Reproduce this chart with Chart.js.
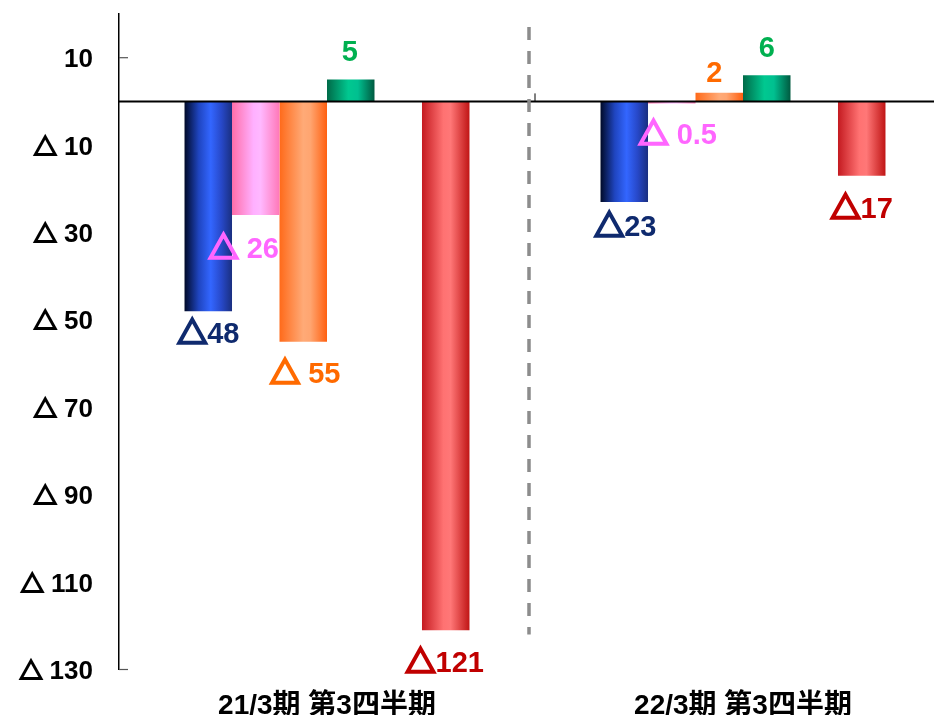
<!DOCTYPE html>
<html>
<head>
<meta charset="utf-8">
<script src="https://cdn.jsdelivr.net/npm/chart.js@4.4.1/dist/chart.umd.min.js"></script>
<style>
  html, body { margin: 0; padding: 0; background: #fff; overflow: hidden; }
  #wrap { width: 960px; height: 715px; }
</style>
</head>
<body>
<div id="wrap"><canvas id="bar-chart"></canvas></div>
<script>
// data
const categories = ['21/3期 第3四半期', '22/3期 第3四半期'];
const yTicks = [10, -10, -30, -50, -70, -90, -110, -130];

const blueValues = [-48, -23];
const pinkValues = [-26, -0.5];
const orangeValues = [-55, 2];
const greenValues = [5, 6];
const emptyValues = [null, null];
const redValues = [-121, -17];

const blueLabels = ['△48', '△23'];
const pinkLabels = ['△ 26', '△ 0.5'];
const orangeLabels = ['△ 55', '2'];
const greenLabels = ['5', '6'];
const redLabels = ['△121', '△17'];

const FONT = '"Liberation Sans", Arial, sans-serif';
const TRI_FONT = '"Noto Sans CJK JP", "DejaVu Sans", sans-serif';
const CAT_PCT = 0.685;

// label nudges [dx, dy from bar end to text centre]
const nudges = {
    blue: [[0, 21], [1, 24]],
    pink: [[-12, 32], [6, 30]],
    orange: [[2, 31], [-5, -21]],
    green: [[-1, -29], [0, -29]],
    red: [[-1, 31], [0, 32]]
};

function barGradient(stops) {
    return function (c) {
        if (c.type !== 'data') return stops[1][1];
        const chart = c.chart;
        const xs = chart.scales.x;
        if (!xs || !chart.chartArea) return stops[1][1];
        const n = chart.data.datasets.length;
        const w = (xs.right - xs.left) / chart.data.labels.length;
        const group = w * CAT_PCT;
        const slot = group / n;
        const x0 = xs.getPixelForValue(c.dataIndex) - group / 2 + slot * c.datasetIndex;
        const g = chart.ctx.createLinearGradient(x0, 0, x0 + slot, 0);
        stops.forEach(s => g.addColorStop(s[0], s[1]));
        return g;
    };
}

// text with the triangle drawn in a CJK font (thickened), digits in Arial-like font
function drawMixed(ctx, text, x, y, size, triScale, triStroke, align) {
    let tri = '', rest = text;
    if (text.charAt(0) === '△') { tri = '△'; rest = text.slice(1); }
    const triFont = 'bold ' + Math.round(size * triScale) + 'px ' + TRI_FONT;
    ctx.font = triFont;
    const tw = tri ? ctx.measureText(tri).width : 0;
    ctx.font = 'bold ' + size + 'px ' + FONT;
    const rw = ctx.measureText(rest).width;
    const total = tw + rw;
    const x0 = align === 'right' ? x - total : x - total / 2;
    ctx.textAlign = 'left';
    ctx.textBaseline = 'alphabetic';
    if (tri) {
        ctx.font = triFont;
        ctx.strokeStyle = ctx.fillStyle;
        ctx.lineWidth = triStroke;
        ctx.lineJoin = 'miter';
        ctx.fillText(tri, x0, y);
        ctx.strokeText(tri, x0, y);
    }
    ctx.font = 'bold ' + size + 'px ' + FONT;
    ctx.fillText(rest, x0 + tw, y);
}

const labelPlugin = {
    id: 'labels',
    afterDatasetsDraw(chart) {
        const ctx = chart.ctx;
        const area = chart.chartArea;
        const ys = chart.scales.y;
        const xs = chart.scales.x;
        const y0 = ys.getPixelForValue(0);
        ctx.save();

        // zero line
        ctx.strokeStyle = '#000';
        ctx.lineWidth = 2;
        ctx.beginPath();
        ctx.moveTo(area.left, y0);
        ctx.lineTo(chart.width, y0);
        ctx.stroke();

        // small ticks inside the axis
        ctx.strokeStyle = '#555';
        ctx.lineWidth = 1.2;
        [10, -130].forEach(v => {
            const py = ys.getPixelForValue(v);
            ctx.beginPath();
            ctx.moveTo(area.left, py);
            ctx.lineTo(area.left + 9, py);
            ctx.stroke();
        });

        // category boundary tick + dashed separator
        const bx = (xs.getPixelForValue(0) + xs.getPixelForValue(1)) / 2;
        ctx.strokeStyle = '#000';
        ctx.lineWidth = 1;
        ctx.beginPath();
        ctx.moveTo(bx, y0 - 8);
        ctx.lineTo(bx, y0);
        ctx.stroke();

        ctx.strokeStyle = '#8c8c8c';
        ctx.lineWidth = 3.5;
        ctx.setLineDash([13, 11]);
        ctx.beginPath();
        ctx.moveTo(bx - 6, ys.getPixelForValue(17));
        ctx.lineTo(bx - 6, ys.getPixelForValue(-122));
        ctx.stroke();
        ctx.setLineDash([]);

        // y tick labels
        ctx.fillStyle = '#000';
        ys.ticks.forEach(t => {
            const v = t.value;
            const txt = v > 0 ? String(v) : '△ ' + (-v);
            drawMixed(ctx, txt, area.left - 26, ys.getPixelForValue(v) + 9.5, 26, 0.9, 1.9, 'right');
        });

        // value labels
        chart.data.datasets.forEach((ds, di) => {
            if (!ds.labelTexts) return;
            const meta = chart.getDatasetMeta(di);
            meta.data.forEach((el, i) => {
                if (ds.data[i] == null) return;
                const nd = nudges[ds.key][i];
                ctx.fillStyle = ds.labelColor;
                drawMixed(ctx, ds.labelTexts[i], el.x + nd[0], el.y + nd[1] + 10.5, 29, 1.05, 2.6, 'center');
            });
        });
        ctx.restore();
    }
};

new Chart(document.getElementById('bar-chart'), {
    type: 'bar',
    data: {
        labels: categories,
        datasets: [
            {
                key: 'blue', data: blueValues, labelTexts: blueLabels, labelColor: '#0f2a6e',
                backgroundColor: barGradient([[0, '#000a28'], [0.3, '#1f45c0'], [0.55, '#3366ff'], [0.78, '#2748c8'], [1, '#1a2f80']])
            },
            {
                key: 'pink', data: pinkValues, labelTexts: pinkLabels, labelColor: '#ff66ff',
                backgroundColor: barGradient([[0, '#ff6ea8'], [0.45, '#ffb0ff'], [0.6, '#ffb8ff'], [1, '#ff78b8']])
            },
            {
                key: 'orange', data: orangeValues, labelTexts: orangeLabels, labelColor: '#ff6a00',
                backgroundColor: barGradient([[0, '#ff6a1a'], [0.5, '#ffaa77'], [0.65, '#ffa570'], [1, '#ff6010']])
            },
            {
                key: 'green', data: greenValues, labelTexts: greenLabels, labelColor: '#00b050',
                backgroundColor: barGradient([[0, '#006a48'], [0.45, '#00c890'], [0.65, '#00c090'], [1, '#005a40']])
            },
            {
                key: 'empty', data: emptyValues, backgroundColor: 'rgba(0,0,0,0)'
            },
            {
                key: 'red', data: redValues, labelTexts: redLabels, labelColor: '#c00000',
                backgroundColor: barGradient([[0, '#c41a20'], [0.45, '#ff7272'], [0.6, '#ff7777'], [1, '#c01515']])
            }
        ]
    },
    options: {
        responsive: true,
        maintainAspectRatio: false,
        animation: false,
        layout: { padding: { top: 14, right: 9, bottom: 0, left: 0 } },
        datasets: {
            bar: { categoryPercentage: CAT_PCT, barPercentage: 1, borderWidth: 0, minBarLength: 2 }
        },
        plugins: {
            legend: { display: false },
            tooltip: { enabled: false },
            title: { display: false }
        },
        scales: {
            x: {
                grid: { display: false },
                border: { display: false },
                ticks: {
                    color: '#000',
                    padding: 12,
                    font: { family: '"Liberation Sans", Arial, "Noto Sans CJK JP", sans-serif', size: 28, weight: 'bold' },
                    maxRotation: 0
                },
                afterFit(scale) { scale.height = 45.5; }
            },
            y: {
                min: -130,
                max: 20,
                grid: { display: false },
                border: { display: true, color: '#000', width: 1.5 },
                afterBuildTicks(scale) {
                    scale.ticks = yTicks.map(v => ({ value: v }));
                },
                ticks: { display: false },
                afterFit(scale) {
                    scale.width = 119;
                    scale.paddingTop = 0;
                    scale.paddingBottom = 0;
                }
            }
        }
    },
    plugins: [labelPlugin]
});
</script>
</body>
</html>
